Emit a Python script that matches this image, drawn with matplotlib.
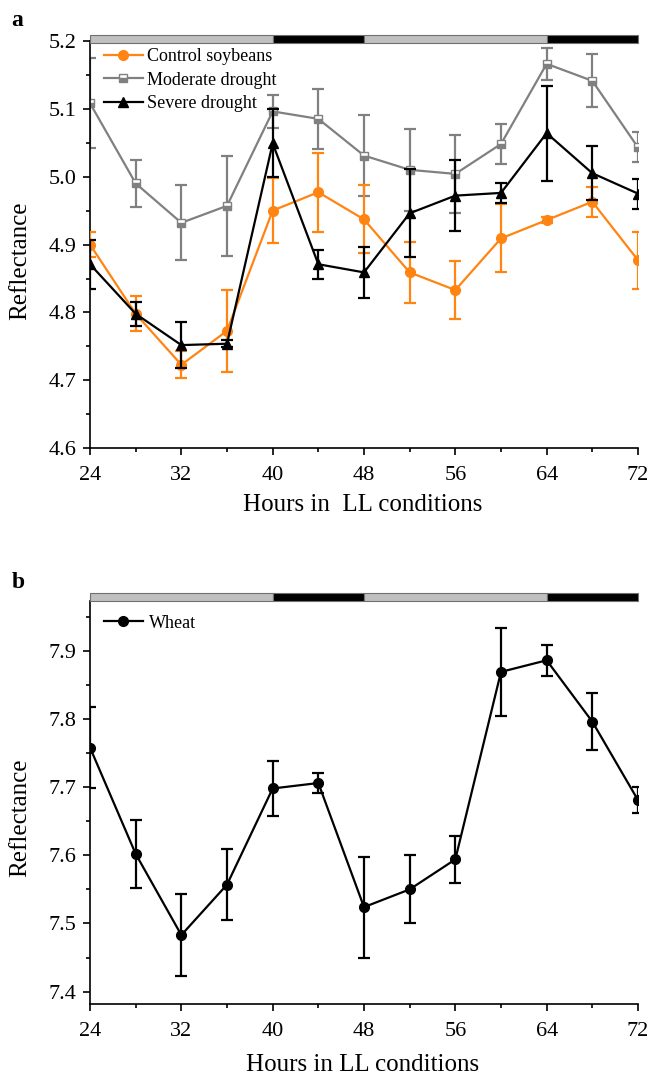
import matplotlib
matplotlib.use("Agg")
import matplotlib.pyplot as plt
from matplotlib.patches import Rectangle
from matplotlib.ticker import MultipleLocator, FormatStrFormatter

plt.rcParams["font.family"] = ["Liberation Serif", "DejaVu Serif"]

# ----------------------------------------------------------
# DATA
# ----------------------------------------------------------

hours = [24, 28, 32, 36, 40, 44, 48, 52, 56, 60, 64, 68, 72]

control_mean = [4.900, 4.798, 4.723, 4.773, 4.950, 4.977, 4.937, 4.859, 4.833, 4.909, 4.936, 4.963, 4.877]
control_err = [0.018, 0.026, 0.020, 0.060, 0.048, 0.058, 0.050, 0.045, 0.043, 0.050, 0.005, 0.022, 0.042]

moderate_mean = [5.108, 4.990, 4.932, 4.957, 5.096, 5.085, 5.031, 5.010, 5.004, 5.048, 5.166, 5.141, 5.043]
moderate_err = [0.066, 0.035, 0.055, 0.074, 0.024, 0.044, 0.060, 0.060, 0.057, 0.030, 0.024, 0.039, 0.022]

severe_mean = [4.871, 4.798, 4.752, 4.754, 5.049, 4.871, 4.859, 4.946, 4.972, 4.976, 5.064, 5.005, 4.975]
severe_err = [0.036, 0.018, 0.034, 0.005, 0.050, 0.021, 0.038, 0.065, 0.052, 0.015, 0.070, 0.040, 0.022]

wheat_mean = [7.758, 7.602, 7.483, 7.557, 7.698, 7.706, 7.524, 7.550, 7.594, 7.869, 7.886, 7.796, 7.681]
wheat_err = [0.060, 0.050, 0.060, 0.052, 0.041, 0.014, 0.074, 0.050, 0.034, 0.064, 0.023, 0.042, 0.019]

# light/dark phases shown in the bar above each panel
phase_edges = [24, 40, 48, 64, 72]
phase_colors = ["#c0c0c0", "#000000", "#c0c0c0", "#000000"]

ORANGE = "#ff8412"
GRAY = "#808080"


# ----------------------------------------------------------
# HELPERS
# ----------------------------------------------------------

def style_axis(ax, ylim, xlabel, xlabel_y, ylabel_y):
    ax.set_xlim(24, 72)
    ax.set_ylim(*ylim)
    ax.xaxis.set_major_locator(MultipleLocator(8))
    ax.xaxis.set_minor_locator(MultipleLocator(4))
    ax.yaxis.set_major_locator(MultipleLocator(0.1))
    ax.yaxis.set_minor_locator(MultipleLocator(0.05))
    ax.yaxis.set_major_formatter(FormatStrFormatter("%.1f"))
    ax.spines["top"].set_visible(False)
    ax.spines["right"].set_visible(False)
    for s in ("left", "bottom"):
        ax.spines[s].set_linewidth(1.2)
    ax.tick_params(which="major", direction="out", length=5, width=1.2,
                   labelsize=16)
    ax.tick_params(axis="x", which="major", pad=8)
    ax.tick_params(axis="y", which="major", pad=5)
    ax.tick_params(which="minor", direction="out", length=3, width=1.2)
    ax.set_xlabel(xlabel, fontsize=18)
    ax.set_ylabel("Reflectance", fontsize=18)
    ax.xaxis.set_label_coords(0.497, xlabel_y)
    ax.yaxis.set_label_coords(-0.107, ylabel_y)


def draw_phase_bar(ax, y0, h):
    for i, c in enumerate(phase_colors):
        ax.add_patch(Rectangle(
            (phase_edges[i], y0), phase_edges[i + 1] - phase_edges[i], h,
            transform=ax.get_xaxis_transform(), clip_on=False,
            facecolor=c, edgecolor="#707070", linewidth=0.8, zorder=5,
        ))


eb_kw = dict(elinewidth=1.6, capsize=4, capthick=1.6, linewidth=1.6)

# ----------------------------------------------------------
# FIGURE
# ----------------------------------------------------------

fig = plt.figure(figsize=(6.5, 10.78), dpi=100)

# panel a
ax_a = fig.add_axes([0.1385, 0.5841, 0.843, 0.3781])
ax_a.errorbar(hours, moderate_mean, yerr=moderate_err, color=GRAY, marker="s",
              markersize=6, fillstyle="bottom", markerfacecoloralt="white",
              markeredgecolor=GRAY, label="Moderate drought", zorder=2, **eb_kw)
ax_a.errorbar(hours, control_mean, yerr=control_err, color=ORANGE, marker="o",
              markersize=7, label="Control soybeans", zorder=3, **eb_kw)
ax_a.errorbar(hours, severe_mean, yerr=severe_err, color="black", marker="^",
              markersize=7, label="Severe drought", zorder=4, **eb_kw)
style_axis(ax_a, (4.6, 5.2), "Hours in  LL conditions", -0.113, 0.4595)
draw_phase_bar(ax_a, 0.995, 0.019)

handles, labels = ax_a.get_legend_handles_labels()
order = [1, 0, 2]
ax_a.legend([handles[i][0] for i in order], [labels[i] for i in order],
            loc="upper left", bbox_to_anchor=(0.005, 1.008), frameon=False,
            fontsize=13, handlelength=2.2, handletextpad=0.2,
            labelspacing=0.35, borderaxespad=0.2)

fig.text(0.018, 0.991, "a", fontsize=17, fontweight="bold", va="top")

# panel b
ax_b = fig.add_axes([0.1385, 0.0684, 0.843, 0.3741])
ax_b.errorbar(hours, wheat_mean, yerr=wheat_err, color="black", marker="o",
              markersize=7, label="Wheat", **eb_kw)
style_axis(ax_b, (7.3815, 7.973), "Hours in LL conditions", -0.124, 0.4627)
draw_phase_bar(ax_b, 1.0, 0.019)

hb, lb = ax_b.get_legend_handles_labels()
ax_b.legend([hb[0][0]], lb, loc="upper left", bbox_to_anchor=(0.005, 0.993),
            frameon=False, fontsize=13, handlelength=2.2, handletextpad=0.3,
            borderaxespad=0.2)

fig.text(0.018, 0.469, "b", fontsize=17, fontweight="bold", va="top")

fig.savefig("out.png", dpi=100)
